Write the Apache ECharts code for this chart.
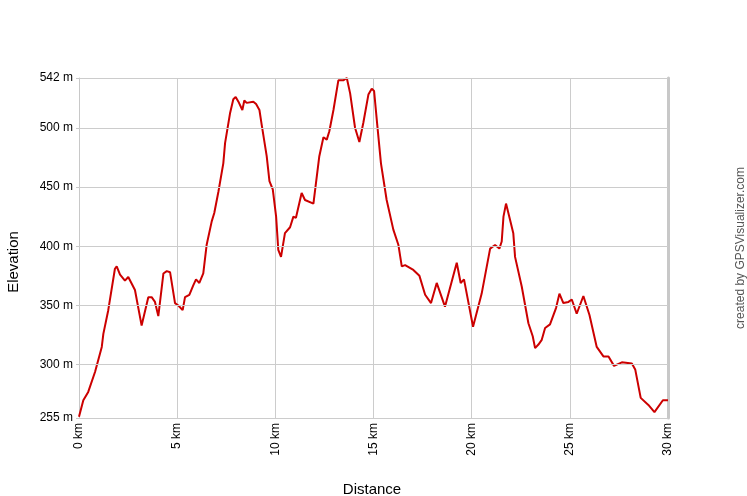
<!DOCTYPE html>
<html><head><meta charset="utf-8">
<script src="https://cdn.jsdelivr.net/npm/echarts@6/dist/echarts.min.js"></script>
<style>html,body{margin:0;padding:0;background:#fff}#c{width:747px;height:496px}</style>
</head><body><div id="c"></div>
<script>
const distanceKm = [0,0.22,0.47,0.82,1.16,1.24,1.49,1.83,1.92,2.09,2.34,2.51,2.85,3.19,3.53,3.70,3.87,4.04,4.30,4.47,4.64,4.89,5.06,5.28,5.40,5.62,5.82,5.96,6.13,6.33,6.50,6.76,6.89,7.10,7.35,7.44,7.69,7.86,7.98,8.12,8.32,8.42,8.54,8.88,9.02,9.19,9.31,9.56,9.70,9.87,10.04,10.15,10.29,10.49,10.75,10.92,11.05,11.34,11.51,11.94,12.24,12.45,12.62,12.75,12.96,13.21,13.46,13.64,13.81,14.06,14.28,14.48,14.74,14.91,15.03,15.20,15.38,15.67,16.01,16.27,16.44,16.61,17.03,17.34,17.63,17.93,18.22,18.64,19.24,19.44,19.61,20.07,20.51,20.94,21.19,21.41,21.53,21.62,21.75,21.96,22.12,22.21,22.55,22.89,23.11,23.23,23.40,23.57,23.74,23.99,24.30,24.47,24.67,24.93,25.10,25.35,25.69,26.00,26.37,26.71,26.97,27.25,27.65,28.16,28.33,28.61,29.00,29.31,29.74,30.00];
const elevationM = [256,270,277,294,315,326,346,381,383,376,371,374,363,333,357,357,353,341,377,379,378,352,350,346,357,359,367,372,369,377,401,421,428,446,470,487,512,524,526,522,515,523,521,522,520,515,502,476,455,448,425,397,391,411,416,425,424,445,439,436,476,492,490,497,515,540,540,542,529,500,488,504,528,533,531,501,470,439,414,401,383,384,380,375,359,352,369,349,386,369,372,332,360,398,401,398,404,425,436,422,411,391,366,335,324,314,317,321,331,334,348,360,352,353,355,343,358,342,315,307,307,299,302,301,296,272,266,260,270,270];
const yTickValues = [255,300,350,400,450,500,542];
const xTickValues = [0,5,10,15,20,25,30];

const chart = echarts.init(document.getElementById('c'), null, {renderer:'canvas'});
const font = 'Liberation Sans, Arial, sans-serif';
chart.setOption({
  animation:false,
  grid:{left:79,right:79,top:78,bottom:78},
  xAxis:{type:'value',min:0,max:30,interval:5,
    axisLine:{show:true,lineStyle:{color:'#c8c8c8'}},
    axisTick:{show:false},
    splitLine:{show:true,lineStyle:{color:'#cccccc',width:1}},
    axisLabel:{rotate:90,margin:5,fontSize:12,fontFamily:font,color:'#000',
      formatter:v=>v+' km'}},
  yAxis:[{type:'value',min:255,max:542,
    axisLine:{show:true,lineStyle:{color:'#c8c8c8'}},
    axisTick:{show:true,length:3,customValues:yTickValues,lineStyle:{color:'#c8c8c8'}},
    splitLine:{show:true,lineStyle:{color:'#cccccc'}},
    axisLabel:{customValues:yTickValues,margin:6,fontSize:12,fontFamily:font,color:'#000',
      formatter:v=>v+' m'}},
   {type:'value',min:255,max:542,position:'right',
    axisLine:{show:true,lineStyle:{color:'#c8c8c8',width:3}},
    axisTick:{show:false},axisLabel:{show:false},splitLine:{show:false}}],
  series:[{type:'line',data:distanceKm.map((d,i)=>[d,elevationM[i]]),
    showSymbol:false,symbol:'none',lineStyle:{color:'#cc0000',width:2},
    markLine:{silent:true,symbol:'none',label:{show:false},
      lineStyle:{color:'#cccccc',type:'solid',width:1},
      data:yTickValues.map(v=>({yAxis:v}))}}],
  graphic:[
    {type:'text',x:14,y:262,rotation:Math.PI/2,style:{text:'Elevation',font:'15px '+font,fill:'#000',align:'center',verticalAlign:'middle'}},
    {type:'text',x:372,y:490,style:{text:'Distance',font:'15px '+font,fill:'#000',align:'center',verticalAlign:'middle'}},
    {type:'text',x:741,y:248,rotation:Math.PI/2,style:{text:'created by GPSVisualizer.com',font:'12px '+font,fill:'#555',align:'center',verticalAlign:'middle'}}
  ]
});
</script></body></html>
